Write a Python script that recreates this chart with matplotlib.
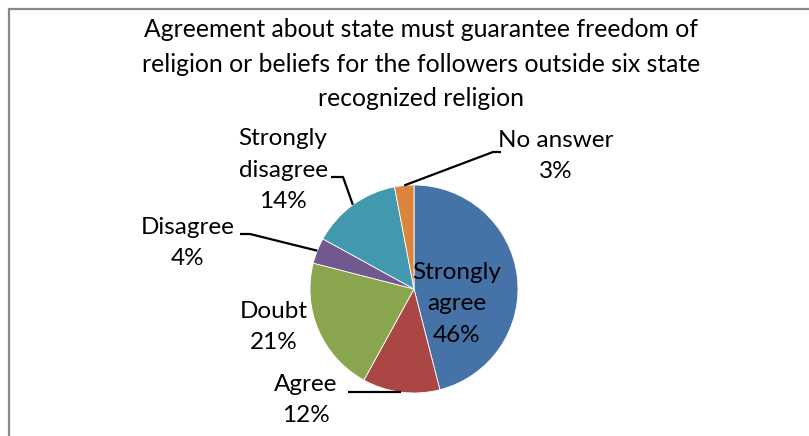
import numpy as np
import matplotlib
matplotlib.use("Agg")
from matplotlib import pyplot as plt
from matplotlib.patches import Rectangle

title = ("Agreement about state must guarantee freedom of\n"
         "religion or beliefs for the followers outside six state\n"
         "recognized religion")
categories = ["Strongly agree", "Agree", "Doubt", "Disagree", "Strongly disagree", "No answer"]
shares = [46, 12, 21, 4, 14, 3]
labels = ["Strongly\nagree\n46%", "Agree\n12%", "Doubt\n21%", "Disagree\n4%",
          "Strongly\ndisagree\n14%", "No answer\n3%"]
colors = ["#4572A7", "#AA4643", "#89A54E", "#71588F", "#4198AF", "#DB843D"]

plt.rcParams['font.family'] = ['Lato', 'DejaVu Sans']

W, H = 809, 436
fig = plt.figure(figsize=(W/100, H/100), dpi=100)

# chart frame, open on the right and bottom
fig.patches.append(Rectangle((9/W, -0.1), 1.2, (H - 9)/H + 0.1, transform=fig.transFigure,
                             fill=False, edgecolor="#888888", linewidth=1.6))

fig.text(421/W, 1 - 64/H, title, ha='center', va='center', fontsize=17.8, linespacing=1.62)

# pie: centre (414, 289) px, radius 104 px
cx, cy, r = 414, 289, 104
half = 260
ax = fig.add_axes([(cx - half)/W, (H - cy - half)/H, 2*half/W, 2*half/H])
lim = half / r

wedges, _ = ax.pie(shares, colors=colors, startangle=90, counterclock=False, radius=1,
                   wedgeprops=dict(edgecolor='white', linewidth=0.6), frame=True)
ax.axis('off')
ax.set_xlim(-lim, lim)
ax.set_ylim(-lim, lim)

def px(x, y):
    return ((x - cx) / r, (cy - y) / r)

def edge_point(i, rad=1.0):
    w = wedges[i]
    a = np.deg2rad((w.theta1 + w.theta2) / 2)
    return rad*np.cos(a), rad*np.sin(a)

# label text centres (pixels) and leader bend points
text_pos = [(457, 304), (306, 400), (274, 327), (188, 243), (283, 170), (556, 156)]
leaders = {
    1: [(348, 394)],
    3: [(250, 234), (240, 234)],
    4: [(343, 177), (331, 177)],
    5: [(493, 152), (501, 152)],
}

for i, lab in enumerate(labels):
    tx, ty = px(*text_pos[i])
    ax.text(tx, ty, lab, ha='center', va='center', fontsize=17.5, linespacing=1.6)
    if i in leaders:
        ex, ey = edge_point(i)
        if i == 1:
            pts = [(ex, ey), (px(*leaders[i][0])[0], ey)]
        else:
            pts = [(ex, ey)] + [px(*p) for p in leaders[i]]
        xs, ys = zip(*pts)
        ax.plot(xs, ys, color='black', linewidth=1.6, solid_capstyle='butt')

fig.savefig("out.png", dpi=100)
